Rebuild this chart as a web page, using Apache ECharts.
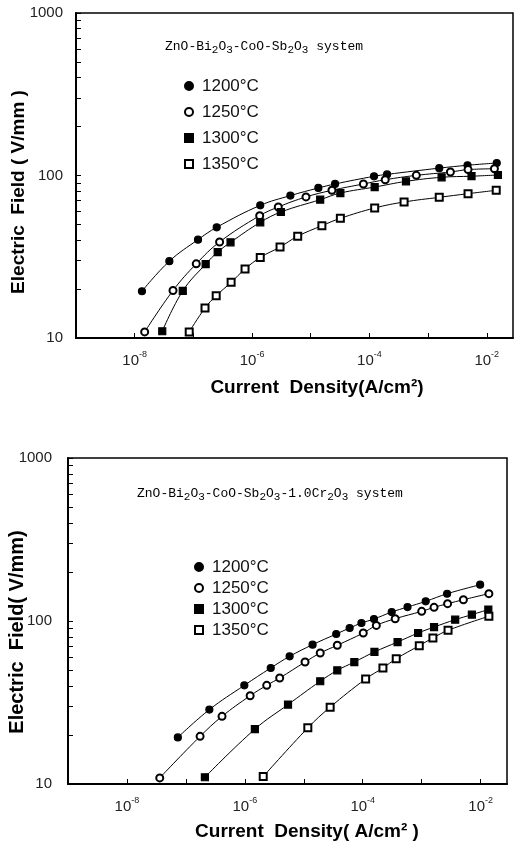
<!DOCTYPE html>
<html>
<head>
<meta charset="utf-8">
<title>Electric field vs current density</title>
<script src="https://cdn.jsdelivr.net/npm/echarts@6/dist/echarts.min.js"></script>
<style>
  html, body { margin: 0; padding: 0; background: #fff; }
  #wrap { position: relative; width: 515px; height: 846px; }
  .layer { position: absolute; left: 0; top: 0; width: 515px; height: 846px; }
  #ticks, #labels { pointer-events: none; }
</style>
</head>
<body>
<div id="wrap">
  <div id="chart" class="layer"></div>
  <div id="ticks" class="layer"></div>
  <div id="labels" class="layer"></div>
</div>
<script>
  // 温度 (legend names)
  var temps = ['1200°C', '1250°C', '1300°C', '1350°C'];

  // ---- upper panel: ZnO-Bi2O3-CoO-Sb2O3 ----
  var topJ1200 = [1.33e-8, 3.9e-8, 1.2e-7, 2.5e-7, 1.38e-6, 4.5e-6, 1.35e-5, 2.6e-5, 1.2e-4, 2.0e-4, 1.55e-3, 4.7e-3, 1.48e-2];
  var topE1200 = [19.4, 29.7, 40.3, 48, 65.5, 75.2, 83.8, 88.7, 98.9, 101.6, 111, 115.6, 119.4];
  var topJ1250 = [1.48e-8, 4.5e-8, 1.12e-7, 2.8e-7, 1.35e-6, 2.8e-6, 8.3e-6, 2.3e-5, 7.9e-5, 1.86e-4, 6.3e-4, 2.4e-3, 4.8e-3, 1.35e-2];
  var topE1250 = [10.9, 19.6, 28.6, 39, 56.6, 64, 73.8, 81.1, 88.7, 94.2, 100.2, 105.1, 108.7, 110];
  var topJ1300 = [2.95e-8, 6.6e-8, 1.62e-7, 2.6e-7, 4.3e-7, 1.38e-6, 3.1e-6, 1.45e-5, 3.2e-5, 1.23e-4, 4.2e-4, 1.7e-3, 5.5e-3, 1.55e-2];
  var topE1300 = [11, 19.5, 28.5, 33.8, 38.8, 51.5, 59.6, 71, 78, 84.9, 92, 97.5, 99, 100.7];
  var topJ1350 = [8.5e-8, 1.58e-7, 2.45e-7, 4.4e-7, 7.6e-7, 1.38e-6, 3.0e-6, 6.0e-6, 1.55e-5, 3.2e-5, 1.23e-4, 3.9e-4, 1.55e-3, 4.8e-3, 1.45e-2];
  var topE1350 = [10.9, 15.3, 18.2, 22, 26.6, 31.3, 36.3, 42.3, 49.1, 54.5, 63.1, 68.7, 73.4, 77.3, 81.1];

  // ---- lower panel: ... -1.0Cr2O3 ----
  var botJ1200 = [7.3e-8, 2.5e-7, 9.8e-7, 2.75e-6, 5.75e-6, 1.41e-5, 3.55e-5, 6.0e-5, 9.5e-5, 1.55e-4, 3.1e-4, 5.75e-4, 1.17e-3, 2.7e-3, 9.8e-3];
  var botE1200 = [19.3, 28.6, 40.3, 51.5, 60.7, 71.6, 83.2, 90.6, 97.2, 102.8, 113.5, 121.8, 132, 147, 167];
  var botJ1250 = [3.6e-8, 1.74e-7, 4.1e-7, 1.23e-6, 2.35e-6, 3.9e-6, 1.05e-5, 1.9e-5, 3.7e-5, 1.02e-4, 1.7e-4, 3.55e-4, 1.0e-3, 1.62e-3, 2.75e-3, 5.1e-3, 1.38e-2];
  var botE1250 = [10.9, 19.6, 26, 34.8, 40.3, 44.7, 56, 63.6, 71, 84.4, 94, 103.3, 114.6, 121.3, 127.7, 135.1, 147.2];
  var botJ1300 = [2.1e-7, 1.48e-6, 5.4e-6, 1.9e-5, 3.7e-5, 7.2e-5, 1.58e-4, 3.9e-4, 8.7e-4, 1.62e-3, 3.7e-3, 7.1e-3, 1.35e-2];
  var botE1300 = [11, 21.7, 30.7, 42.7, 49.8, 56, 64.6, 74.3, 84.4, 91.8, 101.9, 109.4, 117.5];
  var botJ1350 = [2.05e-6, 1.17e-5, 2.8e-5, 1.12e-4, 2.2e-4, 3.7e-4, 9.1e-4, 1.55e-3, 2.8e-3, 1.38e-2];
  var botE1350 = [11.1, 22.1, 29.6, 44.1, 51.5, 58.7, 70.6, 78.7, 87.7, 106.9];

  // axis ticks / labels
  var xTickValues = [1e-9, 1e-8, 1e-7, 1e-6, 1e-5, 1e-4, 1e-3, 1e-2];
  var xLabelValues = [1e-8, 1e-6, 1e-4, 1e-2];
  var yTickValues = [10, 20, 30, 40, 50, 60, 70, 80, 90, 100, 200, 300, 400, 500, 600, 700, 800, 900, 1000];
  var yLabelValues = [10, 100, 1000];

  var symbols = ['circle', 'emptyCircle', 'rect', 'emptyRect'];
  var numFont = "'Liberation Sans', Arial, sans-serif";
  var X_MIN = 1e-9, X_MAX = 0.028, Y_MIN = 10, Y_MAX = 1000;

  var gridBoxes = [
    { left: 76, top: 13, width: 437, height: 325 },
    { left: 68, top: 458, width: 439, height: 326 }
  ];

  function zip(xs, ys) {
    return xs.map(function (x, i) { return [x, ys[i]]; });
  }

  function range(kind) {
    return kind === 'x' ? { min: X_MIN, max: X_MAX } : { min: Y_MIN, max: Y_MAX };
  }

  // hidden coordinate axes for the data layer
  function dataAxis(kind, idx) {
    var r = range(kind);
    return { type: 'log', gridIndex: idx, show: false, min: r.min, max: r.max };
  }

  // axis line + inward ticks (labels kept but invisible)
  function tickAxis(kind, idx) {
    var r = range(kind);
    return {
      type: 'log',
      gridIndex: idx,
      min: r.min,
      max: r.max,
      axisLine: { show: true, lineStyle: { color: '#000', width: 2 } },
      axisTick: { show: true, inside: true, length: 5, lineStyle: { color: '#000' },
                  customValues: kind === 'x' ? xTickValues : yTickValues },
      axisLabel: { customValues: kind === 'x' ? xLabelValues : yLabelValues,
                   color: 'transparent',
                   formatter: function (v) { return String(v); } },
      splitLine: { show: false }
    };
  }

  // tick labels only
  function labelAxis(kind, idx) {
    var r = range(kind);
    var a = {
      type: 'log',
      gridIndex: idx,
      min: r.min,
      max: r.max,
      axisLine: { show: false },
      axisTick: { show: false },
      splitLine: { show: false }
    };
    if (kind === 'x') {
      a.axisLabel = {
        customValues: xLabelValues,
        margin: 12,
        formatter: function (v) {
          return '{b|10}{s|' + Math.round(Math.log10(v)) + '}';
        },
        rich: {
          b: { fontSize: 15, fontFamily: numFont, color: '#222', lineHeight: 18, verticalAlign: 'bottom' },
          s: { fontSize: 9, fontFamily: numFont, color: '#222', lineHeight: 9, verticalAlign: 'top' }
        }
      };
    } else {
      a.axisLabel = {
        customValues: yLabelValues,
        margin: idx === 0 ? 13 : 16,
        color: '#222',
        fontSize: 15,
        fontFamily: numFont,
        formatter: function (v) { return String(v); }
      };
    }
    return a;
  }

  function makeSeries(name, sym, data, idx) {
    return {
      name: name,
      type: 'line',
      xAxisIndex: idx,
      yAxisIndex: idx,
      data: data,
      smooth: 0.4,
      symbol: sym,
      symbolSize: 7,
      showAllSymbol: true,
      itemStyle: { color: '#000', borderColor: '#000', borderWidth: 1.2 },
      lineStyle: { color: '#000', width: 1 },
      emphasis: { disabled: true }
    };
  }

  function legendData() {
    return temps.map(function (t, i) { return { name: t, icon: symbols[i] }; });
  }

  function chemText(parts) {
    return parts.map(function (p) { return (p[1] ? '{s|' : '{m|') + p[0] + '}'; }).join('');
  }

  var richChem = {
    m: { fontSize: 13, fontFamily: 'Liberation Mono, monospace', color: '#111', lineHeight: 16, verticalAlign: 'top' },
    s: { fontSize: 11, fontFamily: 'Liberation Mono, monospace', color: '#111', lineHeight: 7, verticalAlign: 'bottom' }
  };

  var topLabel = chemText([['ZnO-Bi'], ['2', 1], ['O'], ['3', 1], ['-CoO-Sb'], ['2', 1], ['O'], ['3', 1], [' system']]);
  var botLabel = chemText([['ZnO-Bi'], ['2', 1], ['O'], ['3', 1], ['-CoO-Sb'], ['2', 1], ['O'], ['3', 1], ['-1.0Cr'], ['2', 1], ['O'], ['3', 1], [' system']]);

  var titleStyle = { fill: '#000', fontWeight: 'bold', fontFamily: numFont, align: 'center', verticalAlign: 'middle' };
  function titleText(text, x, y, size, rot) {
    return {
      type: 'text', x: x, y: y, rotation: rot || 0,
      style: Object.assign({ text: text, fontSize: size }, titleStyle)
    };
  }

  // layer 1: frame, curves, legends, annotations
  var chart = echarts.init(document.getElementById('chart'), null, { renderer: 'canvas' });
  chart.setOption({
    animation: false,
    backgroundColor: '#fff',
    grid: gridBoxes.map(function (g) {
      return Object.assign({ show: true, borderColor: '#000', borderWidth: 1.5, backgroundColor: 'transparent' }, g);
    }),
    xAxis: [dataAxis('x', 0), dataAxis('x', 1)],
    yAxis: [dataAxis('y', 0), dataAxis('y', 1)],
    legend: [
      {
        orient: 'vertical', left: 179, top: 72,
        itemWidth: 8, itemHeight: 8, itemGap: 8,
        textStyle: { fontSize: 17, fontFamily: numFont, color: '#111', lineHeight: 18, padding: [0, 0, 0, 4] },
        selectedMode: false,
        data: legendData()
      },
      {
        orient: 'vertical', left: 189, top: 553,
        itemWidth: 8, itemHeight: 8, itemGap: 3,
        textStyle: { fontSize: 17, fontFamily: numFont, color: '#111', lineHeight: 18, padding: [0, 0, 0, 4] },
        selectedMode: false,
        data: legendData()
      }
    ],
    graphic: [
      { type: 'text', left: 165, top: 40, style: { text: topLabel, rich: richChem } },
      { type: 'text', left: 137, top: 487, style: { text: botLabel, rich: richChem } },
      titleText('Electric  Field ( V/mm )', 19, 192, 19, Math.PI / 2),
      titleText('Electric  Field( V/mm)', 17, 632, 20, Math.PI / 2),
      titleText('Current  Density(A/cm²)', 317, 388, 19),
      titleText('Current  Density( A/cm² )', 307, 832, 19)
    ],
    series: [
      makeSeries(temps[0], symbols[0], zip(topJ1200, topE1200), 0),
      makeSeries(temps[1], symbols[1], zip(topJ1250, topE1250), 0),
      makeSeries(temps[2], symbols[2], zip(topJ1300, topE1300), 0),
      makeSeries(temps[3], symbols[3], zip(topJ1350, topE1350), 0),
      makeSeries(temps[0], symbols[0], zip(botJ1200, botE1200), 1),
      makeSeries(temps[1], symbols[1], zip(botJ1250, botE1250), 1),
      makeSeries(temps[2], symbols[2], zip(botJ1300, botE1300), 1),
      makeSeries(temps[3], symbols[3], zip(botJ1350, botE1350), 1)
    ]
  });

  // layer 2: axis lines and inward ticks
  var ticks = echarts.init(document.getElementById('ticks'));
  ticks.setOption({
    animation: false,
    grid: gridBoxes,
    xAxis: [tickAxis('x', 0), tickAxis('x', 1)],
    yAxis: [tickAxis('y', 0), tickAxis('y', 1)],
    series: []
  });

  // layer 3: tick labels
  var labels = echarts.init(document.getElementById('labels'));
  labels.setOption({
    animation: false,
    grid: gridBoxes,
    xAxis: [labelAxis('x', 0), labelAxis('x', 1)],
    yAxis: [labelAxis('y', 0), labelAxis('y', 1)],
    series: []
  });
</script>
</body>
</html>
